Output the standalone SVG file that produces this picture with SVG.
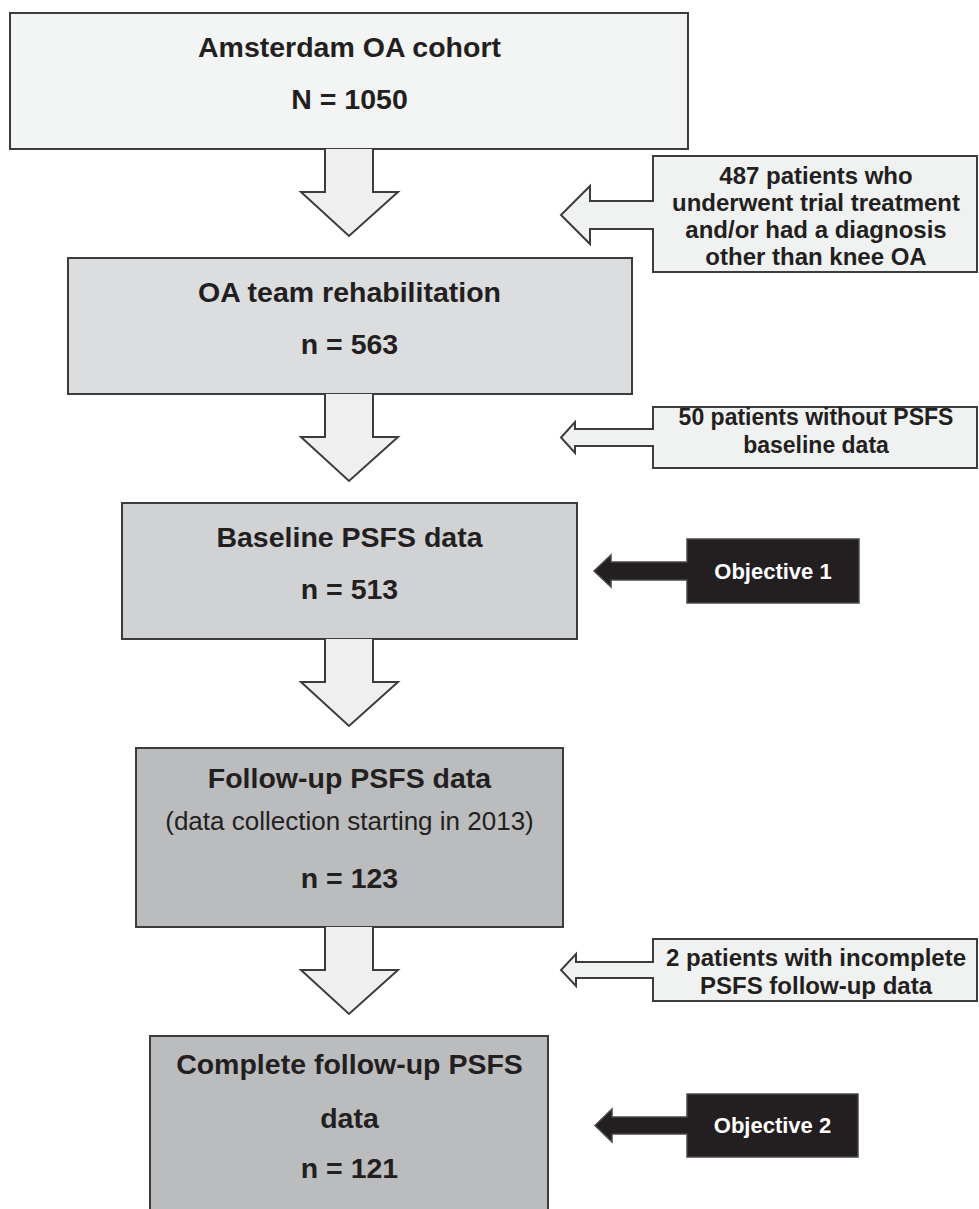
<svg xmlns="http://www.w3.org/2000/svg" width="979" height="1209" viewBox="0 0 979 1209">
<style>
.box{stroke:#3c3c3c;stroke-width:2}
.arr{fill:#efefef;stroke:#3c3c3c;stroke-width:2;stroke-linejoin:miter}
.side{fill:#f0f1f1;stroke:#3c3c3c;stroke-width:2}
.obj{fill:#231f20;stroke:#4a4a4a;stroke-width:1.5}
.t{font-family:"Liberation Sans",Arial,sans-serif;font-weight:bold;font-size:28.5px;fill:#231f20;text-anchor:middle}
.r{font-family:"Liberation Sans",Arial,sans-serif;font-size:26px;fill:#231f20;text-anchor:middle}
.s{font-family:"Liberation Sans",Arial,sans-serif;font-weight:bold;font-size:24px;fill:#231f20;text-anchor:middle}
.o{font-family:"Liberation Sans",Arial,sans-serif;font-weight:bold;font-size:22px;fill:#ffffff;text-anchor:middle}
</style>
<rect width="979" height="1209" fill="#ffffff"/>
<g id="cohort">
<rect class="box" x="10" y="13" width="678" height="136" fill="#f3f4f4"/>
<text class="t" x="349.5" y="57">Amsterdam OA cohort</text>
<text class="t" x="349.5" y="109">N = 1050</text>
</g>
<g id="team">
<rect class="box" x="68" y="258" width="564" height="136" fill="#dcdddf"/>
<text class="t" x="349.5" y="302">OA team rehabilitation</text>
<text class="t" x="349.5" y="354">n = 563</text>
</g>
<g id="baseline">
<rect class="box" x="122" y="503" width="455" height="136" fill="#d1d2d4"/>
<text class="t" x="349.5" y="547">Baseline PSFS data</text>
<text class="t" x="349.5" y="599">n = 513</text>
</g>
<g id="followup">
<rect class="box" x="136" y="748" width="427" height="179" fill="#bbbcbe"/>
<text class="t" x="349.5" y="788">Follow-up PSFS data</text>
<text class="r" x="349.5" y="830">(data collection starting in 2013)</text>
<text class="t" x="349.5" y="888">n = 123</text>
</g>
<g id="complete">
<rect class="box" x="150" y="1036" width="398" height="190" fill="#bbbcbe"/>
<text class="t" x="349.5" y="1074">Complete follow-up PSFS</text>
<text class="t" x="349.5" y="1128">data</text>
<text class="t" x="349.5" y="1178">n = 121</text>
</g>
<g id="excl1">
<path class="side" d="M653,156 H977 V272 H653 V229 H590 V244 L561,215 L590,186 V201 H653 Z"/>
<text class="s" x="816" y="184">487 patients who</text>
<text class="s" x="816" y="211">underwent trial treatment</text>
<text class="s" x="816" y="238">and/or had a diagnosis</text>
<text class="s" x="816" y="265">other than knee OA</text>
</g>
<g id="excl2">
<path class="side" d="M653,407 H977 V468 H653 V446 H575 V453 L561,437.5 L575,422 V429 H653 Z"/>
<text class="s" x="816" y="425" style="font-size:23px">50 patients without PSFS</text>
<text class="s" x="816" y="453" style="font-size:23px">baseline data</text>
</g>
<g id="excl3">
<path class="side" d="M653,939 H977 V1001 H653 V978 H576 V986 L561,970 L576,954 V962 H653 Z"/>
<text class="s" x="816" y="966">2 patients with incomplete</text>
<text class="s" x="816" y="994">PSFS follow-up data</text>
</g>
<g id="objective1">
<path class="obj" d="M687,539 H859 V603 H687 V580 H611 V587 L594,571 L611,555 V562 H687 Z"/>
<text class="o" x="773" y="579">Objective 1</text>
</g>
<g id="objective2">
<path class="obj" d="M687,1094 H858 V1157 H687 V1134 H612 V1142 L595,1125.5 L612,1109 V1117 H687 Z"/>
<text class="o" x="772.5" y="1133">Objective 2</text>
</g>
<g id="connectors">
<path class="arr" d="M325,149 V192 H301 L349,236 L398,192 H373 V149"/>
<path class="arr" d="M325,394 V437 H301 L349,481 L398,437 H373 V394"/>
<path class="arr" d="M325,639 V682 H301 L349,726 L398,682 H373 V639"/>
<path class="arr" d="M325,927 V970 H301 L349,1014 L398,970 H373 V927"/>
</g>
</svg>
